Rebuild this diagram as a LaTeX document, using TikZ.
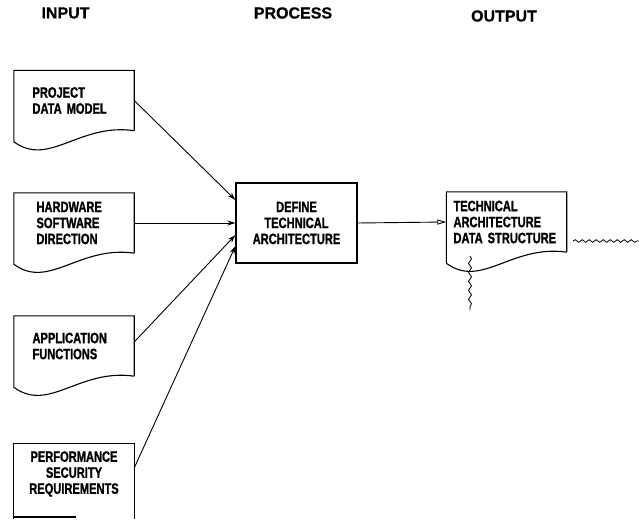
\documentclass[tikz,border=0pt]{standalone}
\usepackage{fontspec}
\setmainfont{Liberation Sans}[FakeBold=0.8]
\newfontfamily\boxfont{Liberation Sans}[FakeStretch=0.74, FakeBold=1.2]
\usetikzlibrary{arrows.meta,decorations.pathmorphing}

\tikzset{
  head/.style={font=\fontsize{16}{18}\selectfont\bfseries},
  docnode/.style={rectangle, inner sep=0pt, minimum width=120pt, minimum height=60pt,
    text width=#1, align=left, font=\boxfont\bfseries\fontsize{15}{16}\selectfont},
  procbox/.style={rectangle, draw, line width=1.1pt, inner sep=0pt, minimum width=121pt,
    minimum height=80pt, align=center, font=\boxfont\bfseries\fontsize{15}{16}\selectfont},
  sheet/.style={line width=1.1pt},
  feed/.style={line width=0.9pt, -{Stealth[length=8pt,width=5pt]}},
  wiggle/.style={line width=0.8pt, decorate, decoration={snake, amplitude=1.3pt, segment length=7pt}}
}

% page with a torn-off wavy foot
\newcommand\docpage[1]{%
  \draw[sheet] (#1.south east) -- (#1.north east) -- (#1.north west)
    -- ([yshift=-11pt]#1.south west)
    .. controls +(35,26) and +(-55,-8) .. (#1.south east);}

\begin{document}
\begin{tikzpicture}[x=1pt,y=-1pt]
\useasboundingbox (0,0) rectangle (639,519);

% column headings
\node[head] (hin) at (65.5,13) {INPUT};
\node[head] (hproc) at (293,13) {PROCESS};
\node[head] (hout) at (504,16) {OUTPUT};

% inputs
\node[docnode=83pt] (proj) at (74,100.5) {PROJECT\\DATA MODEL};
\node[docnode=75pt] (hw) at (74,223) {HARDWARE\\SOFTWARE\\DIRECTION};
\node[docnode=83pt] (app) at (74,346) {APPLICATION\\FUNCTIONS};
\node[docnode=112pt, align=center] (perf) at (74,474) {PERFORMANCE\\SECURITY\\REQUIREMENTS};
\docpage{proj}
\docpage{hw}
\docpage{app}

% last sheet runs off the page
\coordinate (bottom) at (0,519);
\coordinate (foot) at (0,517);
\draw[sheet] (perf.north west |- bottom) -- (perf.north west) -- (perf.north east) -- (perf.north east |- bottom);
\draw[sheet] (perf.north west |- foot) -- ++(62,0);

% process
\node[procbox] (proc) at (296.5,223) {DEFINE\\TECHNICAL\\ARCHITECTURE};

% output
\node[docnode=106pt] (out) at (506.5,222) {TECHNICAL\\ARCHITECTURE\\DATA STRUCTURE};
\docpage{out}

% flows into the process
\draw[feed] (proj.east) -- ([yshift=23pt]proc.west);
\draw[feed] (hw.east) -- (proc.west);
\draw[feed] ([yshift=4pt]app.east) -- ([yshift=-12pt]proc.west);
\draw[feed] ([yshift=6pt]perf.east) -- ([yshift=-23pt]proc.west);

% result
\draw[line width=0.9pt, -{Triangle[open,length=9pt,width=5pt]}] (proc.east) -- (out.west);

% break marks
\coordinate (cut-e) at (573,241);
\coordinate (tail-e) at (639,241);
\coordinate (cut-s) at (470,256);
\coordinate (tail-s) at (470,310);
\draw[wiggle] (cut-e) -- (tail-e);
\draw[wiggle, decoration={segment length=9pt, amplitude=1.5pt}] (cut-s) -- (tail-s);
\end{tikzpicture}
\end{document}
